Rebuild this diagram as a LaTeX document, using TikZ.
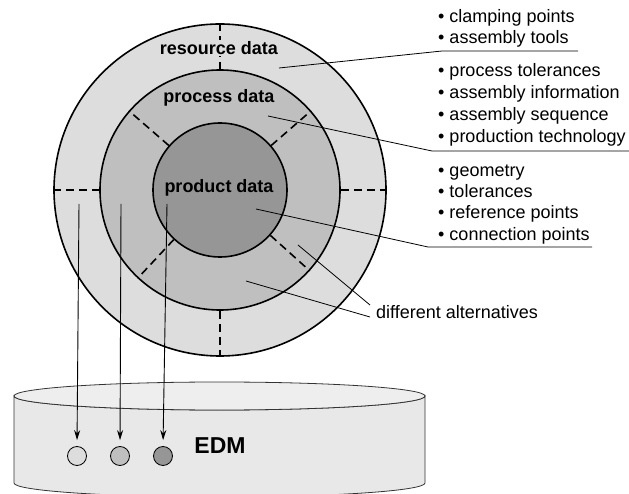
\documentclass[tikz,border=0pt]{standalone}
\usepackage{fontspec}
\setmainfont{Liberation Sans}
\usetikzlibrary{arrows.meta}
\definecolor{ringA}{gray}{0.865}
\definecolor{ringB}{gray}{0.75}
\definecolor{ringC}{gray}{0.59}
\definecolor{cylside}{gray}{0.91}
\definecolor{cyltop}{gray}{0.935}
\begin{document}
\begin{tikzpicture}[x=1pt,y=1pt,
  ring/.style={circle, draw, line width=1.6pt, inner sep=0pt},
  divider/.style={dash pattern=on 8pt off 5pt, line width=1.6pt},
  leader/.style={line width=0.8pt},
  title/.style={font=\bfseries\fontsize{18}{20}\selectfont, inner sep=1pt},
  item/.style={anchor=base west, font=\fontsize{18}{22}\selectfont, inner sep=0pt},
  feed/.style={line width=0.9pt, -{Stealth[length=10pt,width=6pt]}, shorten >=6pt},
  dot/.style={circle, draw, line width=0.8pt, minimum size=19pt, inner sep=0pt}]
\useasboundingbox (0,0) rectangle (629,493);
\clip (0,0) rectangle (629,493);
\fill[white] (0,0) rectangle (629,493);

% EDM cylinder
\draw[fill=cylside, line width=0.8pt, draw=black!80]
  (14,97) -- (14,10) arc[start angle=180, end angle=360, x radius=205.5, y radius=14]
  -- (425,97) arc[start angle=0, end angle=-180, x radius=205.5, y radius=14] -- cycle;
\draw[fill=cyltop, line width=0.8pt, draw=black!80] (219.5,97) ellipse [x radius=205.5, y radius=14];

% rings
\node[ring, fill=ringA, minimum size=332pt] (outer) at (220,303) {};
\node[ring, fill=ringB, minimum size=240pt] (mid) at (220,303) {};
\node[ring, fill=ringC, minimum size=134pt] (inner) at (220,303) {};

\draw[divider] (outer.180) -- (mid.180);
\draw[divider] (mid.0) -- (outer.0);
\draw[divider] (outer.90) -- (mid.90);
\draw[divider] (mid.270) -- (outer.270);
\draw[divider] (inner.41) -- (mid.41);
\draw[divider] (inner.139) -- (mid.139);
\draw[divider] (inner.227) -- (mid.227);
\draw[divider] (inner.318) -- (mid.318);

\node[title, fill=ringA] (res) at (219,445) {resource data};
\node[title] (proc) at (219,395) {process data};
\node[title] (prod) at (219,305) {product data};

% item lists
\node[item] (a1) at (438,470) {• clamping points};
\node[item] (a2) at (438,449) {• assembly tools};
\node[item] (b1) at (438,416) {• process tolerances};
\node[item] (b2) at (438,394) {• assembly information};
\node[item] (b3) at (438,372) {• assembly sequence};
\node[item] (b4) at (438,350) {• production technology};
\node[item] (c1) at (438,316) {• geometry};
\node[item] (c2) at (438,295) {• tolerances};
\node[item] (c3) at (438,274) {• reference points};
\node[item] (c4) at (438,252) {• connection points};
\node[item] (alt) at (376,175) {different alternatives};

% leaders
\coordinate (pres) at (279,425);
\coordinate (kres) at (442,442);
\coordinate (eres) at (578,442);
\draw[leader] (pres) -- (kres) -- (eres);
\coordinate (pproc) at (268,377);
\coordinate (kproc) at (432,342);
\coordinate (eproc) at (629,342);
\draw[leader] (pproc) -- (kproc) -- (eproc);
\coordinate (pprod) at (256,284);
\coordinate (kprod) at (428,246);
\coordinate (eprod) at (592,246);
\draw[leader] (pprod) -- (kprod) -- (eprod);
\coordinate (palt1) at (298,248);
\coordinate (qalt1) at (370,188);
\coordinate (palt2) at (246,212);
\coordinate (qalt2) at (370,176);
\draw[leader] (palt1) -- (qalt1);
\draw[leader] (palt2) -- (qalt2);

% EDM contents
\node[dot, fill=ringA] (d1) at (77,37) {};
\node[dot, fill=ringB] (d2) at (120,37) {};
\node[dot, fill=ringC] (d3) at (163,37) {};
\coordinate (s1) at (79,289);
\coordinate (s2) at (121,289);
\coordinate (s3) at (167,289);
\draw[feed] (s1) -- (d1.north);
\draw[feed] (s2) -- (d2.north);
\draw[feed] (s3) -- (d3.north);
\node[font=\bfseries\fontsize{23}{26}\selectfont, inner sep=0pt] (edm) at (220,47) {EDM};
\end{tikzpicture}
\end{document}
